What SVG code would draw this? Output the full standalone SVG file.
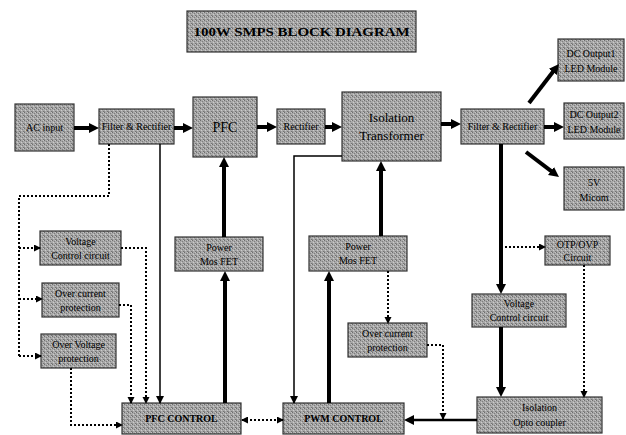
<svg xmlns="http://www.w3.org/2000/svg" width="626" height="435" viewBox="0 0 626 435">
<defs>
<pattern id="dither" width="4" height="4" patternUnits="userSpaceOnUse">
<rect width="4" height="4" fill="#a9a9a9"/>
<rect x="0" y="0" width="1" height="1" fill="#6e6e6e"/>
<rect x="2" y="1" width="1" height="1" fill="#7e7e7e"/>
<rect x="1" y="2" width="1" height="1" fill="#cccccc"/>
<rect x="3" y="3" width="1" height="1" fill="#747474"/>
<rect x="3" y="0" width="1" height="1" fill="#c4c4c4"/>
<rect x="0" y="3" width="1" height="1" fill="#8c8c8c"/>
</pattern>
<marker id="ah" markerUnits="userSpaceOnUse" markerWidth="11" markerHeight="11" refX="4" refY="5" orient="auto">
<path d="M0,0 L10,5 L0,10 z" fill="#000"/>
</marker>
<marker id="at" markerUnits="userSpaceOnUse" markerWidth="9" markerHeight="9" refX="7" refY="4" orient="auto">
<path d="M0,0 L8,4 L0,8 z" fill="#000"/>
</marker>
<marker id="ad" markerUnits="userSpaceOnUse" markerWidth="8" markerHeight="8" refX="6" refY="3.5" orient="auto">
<path d="M0,0 L7,3.5 L0,7 z" fill="#000"/>
</marker>
<marker id="ads" markerUnits="userSpaceOnUse" markerWidth="8" markerHeight="8" refX="1" refY="3.5" orient="auto">
<path d="M7,0 L0,3.5 L7,7 z" fill="#000"/>
</marker>
</defs>
<style>
.box{fill:url(#dither);stroke:#333;stroke-width:1.2}
text{font-family:"Liberation Serif","Times New Roman",serif;font-size:10px;fill:#000;text-anchor:middle}
.big{font-size:14px}
.mid{font-size:13px}
.thick{stroke:#000;stroke-width:4;fill:none}
.med{stroke:#000;stroke-width:2.5;fill:none}
.thin{stroke:#000;stroke-width:1.5;fill:none}
.dot{stroke:#000;stroke-width:2;stroke-dasharray:2 2;fill:none}
</style>

<g id="title">
<rect class="box" x="187" y="11" width="229" height="41"/>
<text x="301.5" y="36" class="mid" font-weight="bold" textLength="216" lengthAdjust="spacingAndGlyphs">100W SMPS BLOCK DIAGRAM</text>
</g>

<g id="ac-input"><rect class="box" x="15" y="104" width="59" height="47"/><text x="44.5" y="131">AC input</text></g>
<g id="filter-rectifier-1"><rect class="box" x="99" y="109" width="75" height="35"/><text x="136.5" y="130">Filter &amp; Rectifier</text></g>
<g id="pfc"><rect class="box" x="193" y="97" width="64" height="60"/><text x="225" y="132" class="big">PFC</text></g>
<g id="rectifier"><rect class="box" x="277" y="109" width="48" height="35"/><text x="301" y="130" font-size="9">Rectifier</text></g>
<g id="isolation-transformer"><rect class="box" x="342" y="92" width="99" height="69"/><text x="391.5" y="122" class="mid">Isolation</text><text x="391.5" y="140" class="mid">Transformer</text></g>
<g id="filter-rectifier-2"><rect class="box" x="461" y="109" width="83" height="35"/><text x="502.5" y="130">Filter &amp; Rectifier</text></g>
<g id="dc-output-1"><rect class="box" x="558" y="39" width="66" height="42"/><text x="591" y="57" font-size="9">DC Output1</text><text x="591" y="72" font-size="9">LED Module</text></g>
<g id="dc-output-2"><rect class="box" x="564" y="103" width="60" height="36"/><text x="594" y="118" font-size="9">DC Output2</text><text x="594" y="133" font-size="9">LED Module</text></g>
<g id="micom"><rect class="box" x="564" y="167" width="60" height="43"/><text x="594" y="186" font-size="9">5V</text><text x="594" y="201" font-size="9">Micom</text></g>

<g id="voltage-control-1"><rect class="box" x="40" y="231" width="81" height="34"/><text x="80.5" y="245">Voltage</text><text x="80.5" y="259">Control circuit</text></g>
<g id="over-current-1"><rect class="box" x="42" y="283" width="77" height="34"/><text x="80.5" y="297">Over current</text><text x="80.5" y="311">protection</text></g>
<g id="over-voltage"><rect class="box" x="41" y="334" width="75" height="34"/><text x="78.5" y="348">Over Voltage</text><text x="78.5" y="362">protection</text></g>

<g id="power-mosfet-1"><rect class="box" x="175" y="237" width="88" height="34"/><text x="219" y="251">Power</text><text x="219" y="265">Mos FET</text></g>
<g id="power-mosfet-2"><rect class="box" x="309" y="236" width="98" height="35"/><text x="358" y="250">Power</text><text x="358" y="264">Mos FET</text></g>
<g id="over-current-2"><rect class="box" x="348" y="323" width="79" height="34"/><text x="387.5" y="337">Over current</text><text x="387.5" y="351">protection</text></g>

<g id="otp-ovp"><rect class="box" x="545" y="236" width="65" height="29"/><text x="577.5" y="248">OTP/OVP</text><text x="577.5" y="261">Circuit</text></g>
<g id="voltage-control-2"><rect class="box" x="472" y="294" width="94" height="33"/><text x="519" y="307">Voltage</text><text x="519" y="321">Control circuit</text></g>
<g id="opto-coupler"><rect class="box" x="477" y="397" width="125" height="36"/><text x="539.5" y="411">Isolation</text><text x="539.5" y="426">Opto coupler</text></g>

<g id="pfc-control"><rect class="box" x="122" y="403" width="119" height="31"/><text x="181.5" y="422" font-weight="bold">PFC CONTROL</text></g>
<g id="pwm-control"><rect class="box" x="283" y="403" width="121" height="31"/><text x="343.5" y="422" font-weight="bold">PWM CONTROL</text></g>

<g id="connectors">
<line class="thick" x1="74" y1="128" x2="93" y2="128" marker-end="url(#ah)"/>
<line class="thick" x1="174" y1="128" x2="187" y2="128" marker-end="url(#ah)"/>
<line class="thick" x1="257" y1="127" x2="271" y2="127" marker-end="url(#ah)"/>
<line class="thick" x1="325" y1="127" x2="336" y2="127" marker-end="url(#ah)"/>
<line class="thick" x1="441" y1="124" x2="455" y2="124" marker-end="url(#ah)"/>
<line class="thick" x1="544" y1="127" x2="558" y2="127" marker-end="url(#ah)"/>
<line class="thick" x1="529" y1="103" x2="555.3" y2="68.7" marker-end="url(#ah)"/>
<line class="thick" x1="526" y1="152" x2="554.2" y2="173.4" marker-end="url(#ah)"/>
<line class="thick" x1="501" y1="144" x2="501" y2="288" marker-end="url(#ah)"/>
<line class="thick" x1="501" y1="327" x2="501" y2="391" marker-end="url(#ah)"/>
<line class="med" x1="477" y1="420" x2="410" y2="420" marker-end="url(#ah)"/>
<line class="thick" x1="225" y1="403" x2="225" y2="277" marker-end="url(#ah)"/>
<line class="thick" x1="224" y1="237" x2="224" y2="163" marker-end="url(#ah)"/>
<line class="thick" x1="329" y1="403" x2="329" y2="277" marker-end="url(#ah)"/>
<line class="thick" x1="381" y1="236" x2="381" y2="167" marker-end="url(#ah)"/>

<line class="thin" x1="160" y1="144" x2="160" y2="403" marker-end="url(#at)"/>
<polyline class="thin" points="342,156 294,156 294,403" marker-end="url(#at)"/>

<polyline class="dot" points="109,144 109,196 19,196 19,357"/>
<line class="dot" x1="19" y1="248" x2="40" y2="248" marker-end="url(#ad)"/>
<line class="dot" x1="19" y1="299" x2="42" y2="299" marker-end="url(#ad)"/>
<line class="dot" x1="19" y1="356" x2="41" y2="356" marker-end="url(#ad)"/>
<polyline class="dot" points="121,248 146,248 146,403" marker-end="url(#ad)"/>
<polyline class="dot" points="119,305 131,305 131,403" marker-end="url(#ad)"/>
<polyline class="dot" points="71,368 71,425 122,425" marker-end="url(#ad)"/>
<line class="dot" x1="242" y1="420" x2="283" y2="420" marker-start="url(#ads)" marker-end="url(#ad)"/>
<line class="dot" x1="501" y1="247" x2="545" y2="247" marker-end="url(#ad)"/>
<line class="dot" x1="584" y1="265" x2="584" y2="397" marker-end="url(#ad)"/>
<line class="dot" x1="388" y1="271" x2="388" y2="323" marker-end="url(#ad)"/>
<polyline class="dot" points="427,345 443,345 443,419" marker-end="url(#ad)"/>
</g>
</svg>
